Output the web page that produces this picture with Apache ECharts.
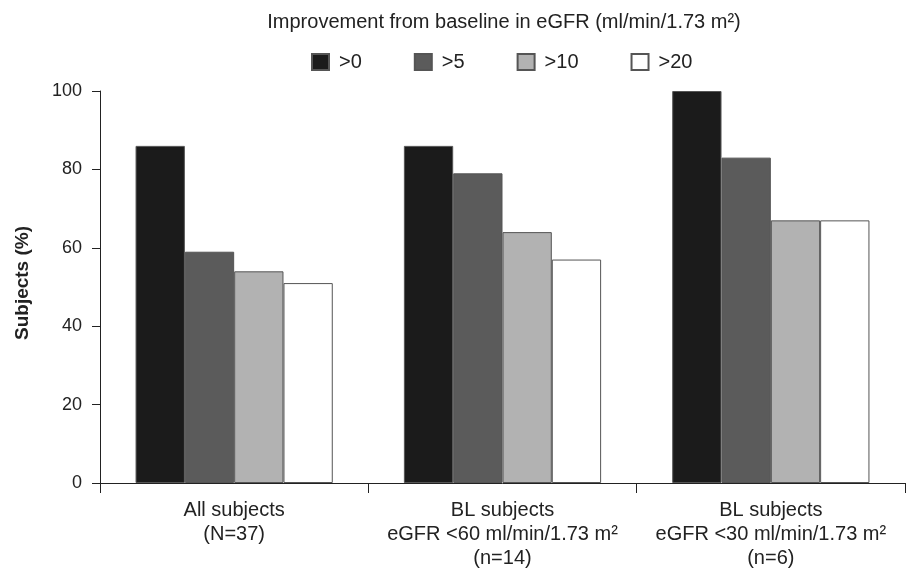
<!DOCTYPE html>
<html>
<head>
<meta charset="utf-8">
<script src="https://cdn.jsdelivr.net/npm/echarts@6/dist/echarts.min.js"></script>
<style>
html,body{margin:0;padding:0;background:#fff;}
#chart{width:910px;height:570px;}
</style>
</head>
<body>
<div id="chart"></div>
<script>
const categories = [
  'All subjects\n(N=37)',
  'BL subjects\neGFR <60 ml/min/1.73 m\u00B2\n(n=14)',
  'BL subjects\neGFR <30 ml/min/1.73 m\u00B2\n(n=6)'
];
const seriesNames = ['>0', '>5', '>10', '>20'];
const valsGt0 = [86, 86, 100];
const valsGt5 = [59, 79, 83];
const valsGt10 = [54, 64, 67];
const valsGt20 = [51, 57, 67];
const yTicks = [0, 20, 40, 60, 80, 100];
const fillColors = ['#1b1b1b', '#5b5b5b', '#b2b2b2', '#ffffff'];

const allVals = [valsGt0, valsGt5, valsGt10, valsGt20];
const font = 'Liberation Sans, Arial, Helvetica, sans-serif';

const chart = echarts.init(document.getElementById('chart'), null, {renderer: 'canvas'});
chart.setOption({
  animation: false,
  textStyle: {fontFamily: font},
  title: {
    text: 'Improvement from baseline in eGFR (ml/min/1.73 m\u00B2)',
    left: 499,
    textAlign: 'center',
    top: 7,
    textStyle: {fontSize: 20, fontWeight: 'normal', color: '#222', fontFamily: font}
  },
  legend: {
    data: seriesNames,
    left: 306,
    top: 47,
    icon: 'rect',
    itemWidth: 17,
    itemHeight: 16,
    itemGap: 52,
    textStyle: {fontSize: 20, color: '#222', fontFamily: font, padding: [0, 0, 0, 5]}
  },
  grid: {left: 100, right: 5, top: 91, bottom: 85, containLabel: false},
  xAxis: {
    type: 'category',
    data: categories,
    axisLine: {lineStyle: {color: '#222', width: 1}},
    axisTick: {show: true, length: 10, lineStyle: {color: '#222'}},
    axisLabel: {fontSize: 20, color: '#222', lineHeight: 24, margin: 15, fontFamily: font, interval: 0}
  },
  yAxis: {
    type: 'value',
    min: yTicks[0],
    max: yTicks[yTicks.length - 1],
    interval: 20,
    name: 'Subjects (%)',
    nameLocation: 'middle',
    nameGap: 68,
    nameTextStyle: {fontSize: 19, fontWeight: 'bold', color: '#222', fontFamily: font, padding: [0, 0, 0, 8]},
    axisLine: {show: true, lineStyle: {color: '#222', width: 1}},
    axisTick: {show: true, length: 8, lineStyle: {color: '#222'}},
    axisLabel: {fontSize: 18, color: '#222', margin: 18, fontFamily: font},
    splitLine: {show: false}
  },
  series: seriesNames.map((name, i) => ({
    name: name,
    type: 'bar',
    data: allVals[i],
    barGap: '0%',
    barCategoryGap: '26.5%',
    itemStyle: {color: fillColors[i], borderColor: '#555', borderWidth: 1}
  }))
});
</script>
</body>
</html>
